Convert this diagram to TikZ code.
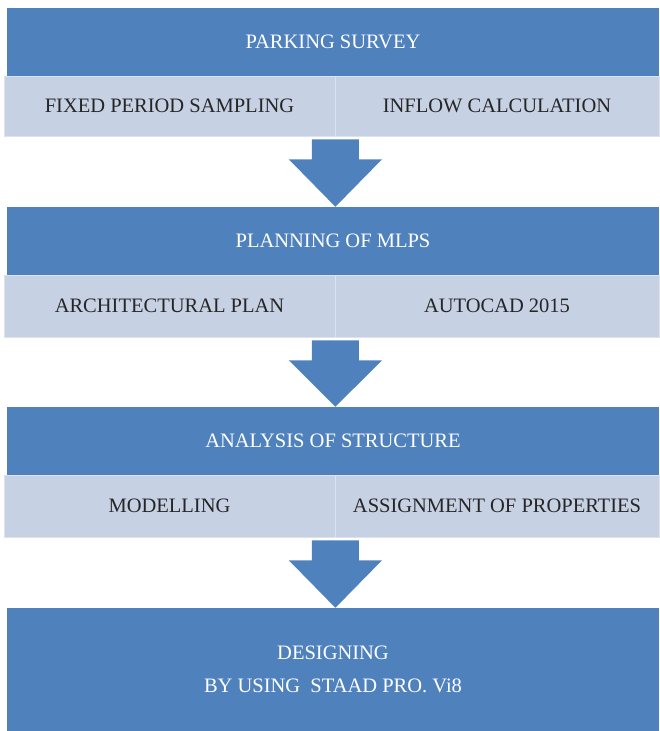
\documentclass[tikz,border=0pt]{standalone}
\usepackage{fontspec}
\setmainfont{Liberation Serif}
\usetikzlibrary{positioning,calc}
\definecolor{stepblue}{HTML}{4F81BD}
\definecolor{steplight}{HTML}{C6D1E4}
\definecolor{stepedge}{HTML}{DCE3EF}
\definecolor{steptext}{HTML}{262626}
% block arrow from the split of one row down to the next band
\newcommand{\flowarrow}[2]{%
  \fill[stepblue] ($(#1)+(-23.5,3)$) -- ++(47,0) -- ++(0,20) -- ++(23,0)
    -- (#1 |- #2.north) -- ($(#1)+(-46.5,23)$) -- ++(23,0) -- cycle;}

\begin{document}
\begin{tikzpicture}[x=1pt,y=-1pt,
  band/.style={fill=stepblue,text=white,minimum width=652pt,inner sep=0pt},
  cell/.style={fill=steplight,draw=stepedge,line width=0.8pt,text=steptext,inner sep=0pt,minimum height=60pt},
  font=\fontsize{20.5}{33}\selectfont]
\useasboundingbox (0,0) rectangle (659,731);
%%
\node[band,minimum height=68pt] (survey) at (333,42) {PARKING SURVEY};
  \node[cell,minimum width=331pt] (sampling) at (169.5,106) {FIXED PERIOD SAMPLING};
  \node[cell,minimum width=324pt] (inflow) at (497,106) {INFLOW CALCULATION};
  \node[band,minimum height=68pt] (mlps) at (333,241) {PLANNING OF MLPS};
  \node[cell,minimum width=331pt,minimum height=62pt] (archplan) at (169.5,306) {ARCHITECTURAL PLAN};
  \node[cell,minimum width=324pt,minimum height=62pt] (autocad) at (497,306) {AUTOCAD 2015};
  \node[band,minimum height=68pt] (analysis) at (333,441) {ANALYSIS OF STRUCTURE};
  \node[cell,minimum width=331pt,minimum height=62pt] (modelling) at (169.5,506) {MODELLING};
  \node[cell,minimum width=324pt,minimum height=62pt] (properties) at (497,506) {ASSIGNMENT OF PROPERTIES};
  \node[band,minimum height=123pt,align=center] (designing) at (333,669.5) {DESIGNING\\BY USING\ \ STAAD PRO. Vi8};
  \flowarrow{sampling.south east}{mlps}
  \flowarrow{archplan.south east}{analysis}
  \flowarrow{modelling.south east}{designing}
%
\end{tikzpicture}
\end{document}
